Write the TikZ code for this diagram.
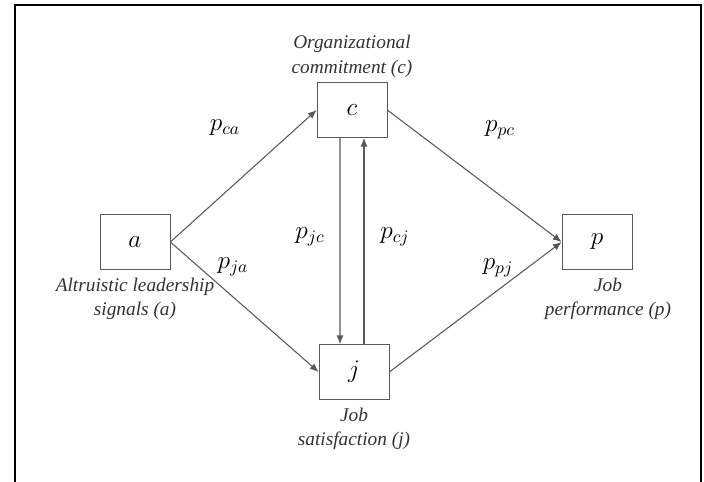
\documentclass[tikz,border=0pt]{standalone}
\usepackage{fontspec}
\setmainfont{Liberation Serif}
\usepackage{tikz}
\usetikzlibrary{arrows.meta, positioning}
\definecolor{linegray}{rgb}{0.35, 0.35, 0.35}

\begin{document}
\begin{tikzpicture}[
  var/.style={rectangle, draw=linegray, minimum width=1.4cm, minimum height=1.1cm, font=\Large},
  lbl/.style={align=center, inner sep=1pt, font=\fontsize{11}{14}\selectfont\itshape, text=black!80},
  coef/.style={font=\Large},
  arrow/.style={-{Latex[length=5pt, width=4pt]}, draw=linegray, semithick}
]
\useasboundingbox (0, 0) rectangle (14.08, 9.64);
\fill[white] (0, 0) rectangle (14.08, 9.64);

% Frame
\draw[line width=1.1pt] (0.3, -0.2) -- (0.3, 9.54) -- (14.02, 9.54) -- (14.02, -0.2);

% Variables
\node[var] (a) at (2.70, 4.80) {$a$};
\node[var] (c) at (7.04, 7.44) {$c$};
\node[var] (j) at (7.08, 2.20) {$j$};
\node[var] (p) at (11.94, 4.80) {$p$};

% Variable names
\node[lbl, below=0.12cm of a] (alab) {Altruistic leadership\\signals (a)};
\node[lbl, above=0.05cm of c] (clab) {Organizational\\commitment (c)};
\node[lbl, below=0.12cm of j] (jlab) {Job\\satisfaction (j)};
\node[lbl, below=0.12cm of p, xshift=0.22cm] (plab) {Job\\performance (p)};

% Paths
\draw[arrow] (a.east) -- (c.west);
\draw[arrow] (a.east) -- (j.west);
\draw[arrow] (c.east) -- (p.west);
\draw[arrow] (j.east) -- (p.west);
\draw[arrow] ([xshift=-0.24cm]c.south) -- ([xshift=-0.28cm]j.north);
\draw[arrow] ([xshift=0.20cm]j.north) -- ([xshift=0.24cm]c.south);

% Path coefficients
\node[coef] (pca) at (4.50, 7.08) {$p_{ca}$};
\node[coef] (ppc) at (10.00, 7.04) {$p_{pc}$};
\node[coef] (pjc) at (6.20, 4.90) {$p_{jc}$};
\node[coef] (pcj) at (7.90, 4.90) {$p_{cj}$};
\node[coef] (pja) at (4.66, 4.30) {$p_{ja}$};
\node[coef] (ppj) at (9.96, 4.28) {$p_{pj}$};

\end{tikzpicture}
\end{document}
